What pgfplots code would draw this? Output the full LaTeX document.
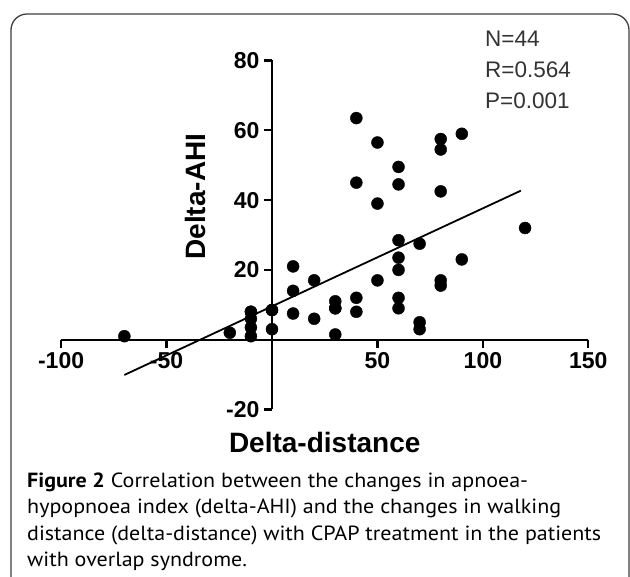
\documentclass[border=0pt]{standalone}
\usepackage{pgfplots}
\pgfplotsset{compat=1.18}
\usepackage{fontspec}
\setmainfont{Liberation Sans}
\newfontfamily\capfont[FakeStretch=1.075]{PT Sans}
\begin{document}
\begin{tikzpicture}[x=1pt,y=1pt]
\useasboundingbox (0,0) rectangle (630,577);
\fill[white] (0,0) rectangle (630,577);
\begin{scope}
\clip (0,0) rectangle (630,577);
\draw[line width=1.3pt, black!75, rounded corners=16pt] (11,563) -- (629,563) -- (629,-30) -- (11,-30) -- cycle;
\end{scope}
\begin{axis}[
  at={(61.1pt,167.5pt)}, anchor=south west,
  x=2.109pt, y=3.49pt,
  xmin=-100, xmax=150, ymin=-20, ymax=80,
  enlargelimits=false,
  axis lines=middle,
  axis line style={line width=2.2pt, -},
  tick style={line width=2.2pt, black},
  major tick length=8pt,
  tick align=outside,
  xtick={-100,-50,50,100,150},
  xticklabels={-100,-50,50,100,150},
  ytick={-20,20,40,60,80},
  yticklabels={-20,20,40,60,80},
  tick label style={font=\fontsize{23}{23}\selectfont\bfseries},
  xticklabel style={anchor=north, yshift=-1pt},
  yticklabel style={anchor=east, xshift=-1pt},
  xlabel={Delta-distance},
  ylabel={Delta-AHI},
  every axis x label/.style={at={(axis cs:25,-20)}, anchor=base, yshift=-43.5pt, font=\fontsize{28}{28}\selectfont\bfseries},
  every axis y label/.style={at={(axis cs:-36.5,41)}, anchor=center, rotate=90, font=\fontsize{28}{28}\selectfont\bfseries},
  clip=false,
]
\addplot[black, line width=1.8pt] coordinates {(-70,-10.1) (118,42.7)};
\addplot[only marks, mark=*, mark size=6pt, black] coordinates {
(-70,1)
(-20,2)
(-10,8) (-10,6) (-10,3.5) (-10,1)
(0,8.5) (0,3)
(10,21) (10,14) (10,7.5)
(20,17) (20,6)
(30,11) (30,9) (30,1.5)
(40,63.5) (40,45) (40,12) (40,8)
(50,56.5) (50,39) (50,17)
(60,49.5) (60,44.5) (60,28.5) (60,23.5) (60,20) (60,12) (60,9)
(70,27.5) (70,5) (70,3)
(80,57.5) (80,54.5) (80,42.5) (80,17) (80,15.5)
(90,59) (90,23)
(120,32)
(-10,8) (0,8.5) (30,9)
};
\end{axis}
\begin{scope}[every node/.style={anchor=base west, inner sep=0pt, text=black!80, font=\fontsize{22.5}{22.5}\selectfont}]
\node at (485,530.3) {N=44};
\node at (485,499.5) {R=0.564};
\node at (485,468.7) {P=0.001};
\end{scope}
\begin{scope}[every node/.style={anchor=base west, inner sep=0pt, text=black, font=\capfont\fontsize{20.5}{20.5}\selectfont}]
\node at (27,89.3) {\textbf{Figure 2} Correlation between the changes in apnoea-};
\node at (27,63) {hypopnoea index (delta-AHI) and the changes in walking};
\node at (27,36.7) {distance (delta-distance) with CPAP treatment in the patients};
\node at (27,10.4) {with overlap syndrome.};
\end{scope}
\end{tikzpicture}
\end{document}
